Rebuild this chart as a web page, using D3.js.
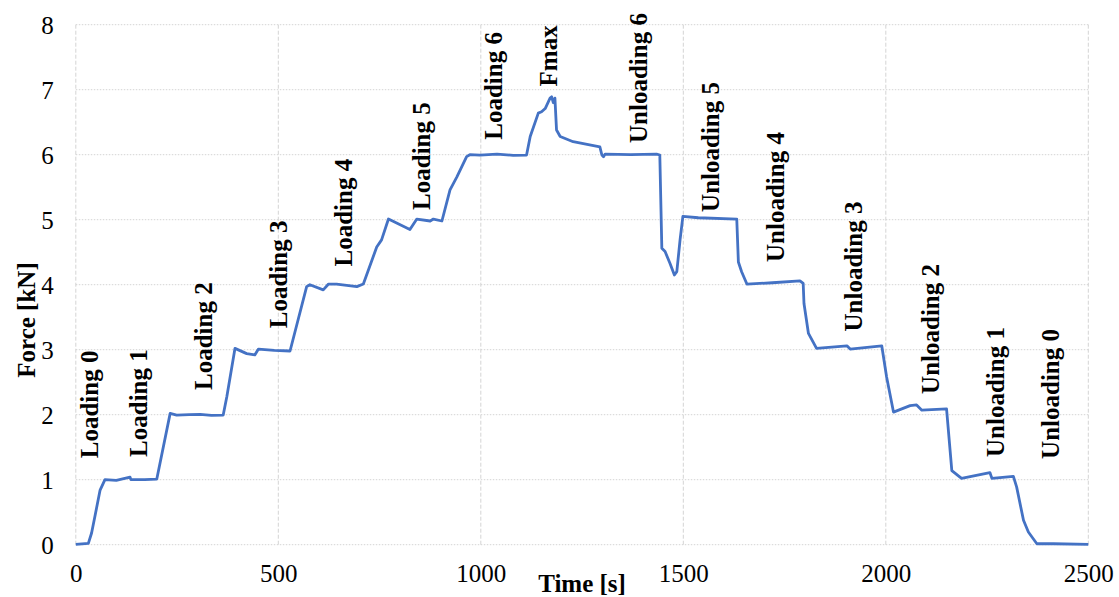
<!DOCTYPE html>
<html>
<head>
<meta charset="utf-8">
<script src="https://cdn.jsdelivr.net/npm/d3@7"></script>
<style>
  body { margin: 0; background: #fff; }
  svg text { font-family: "Liberation Serif", "Times New Roman", serif; fill: #000; }
</style>
</head>
<body>
<div id="chart"></div>
<script>
// time [s] and force [kN]
var times = [0, 31, 39, 47, 60, 72, 100, 134, 136, 170, 200, 233, 249, 280, 307, 335, 364,
  373, 393, 422, 442, 451, 490, 529, 570, 578, 611, 624, 644, 694, 710, 743, 755, 772,
  825, 842, 875, 883, 904, 924, 941, 965, 973, 998, 1040, 1080, 1113, 1122, 1142, 1150,
  1159, 1171, 1175, 1179, 1183, 1187, 1196, 1228, 1294, 1299, 1303, 1307, 1370, 1434,
  1442, 1447, 1455, 1467, 1478, 1484, 1492, 1499, 1537, 1632, 1636, 1644, 1657, 1720,
  1788, 1796, 1798, 1809, 1829, 1904, 1912, 1990, 2002, 2019, 2060, 2076, 2089, 2150,
  2163, 2187, 2257, 2262, 2315, 2323, 2340, 2352, 2373, 2414, 2500];
var forces = [0.005, 0.02, 0.18, 0.43, 0.84, 1.0, 0.99, 1.04, 1.0, 1.0, 1.01, 2.02, 1.995,
  2.0, 2.006, 1.99, 1.995, 2.28, 3.02, 2.94, 2.92, 3.01, 2.99, 2.98, 3.97, 4.0, 3.92, 4.01,
  4.01, 3.97, 4.01, 4.58, 4.69, 5.01, 4.85, 5.01, 4.98, 5.01, 4.98, 5.46, 5.66, 5.97, 6.0,
  5.995, 6.01, 5.99, 5.995, 6.28, 6.64, 6.66, 6.71, 6.87, 6.89, 6.8, 6.87, 6.38, 6.28, 6.2,
  6.12, 5.995, 5.97, 6.01, 6.0, 6.01, 5.995, 4.56, 4.51, 4.33, 4.15, 4.2, 4.69, 5.05, 5.03,
  5.01, 4.35, 4.2, 4.01, 4.03, 4.06, 4.02, 3.71, 3.25, 3.02, 3.06, 3.01, 3.06, 2.58, 2.04,
  2.14, 2.15, 2.07, 2.09, 1.14, 1.02, 1.11, 1.02, 1.05, 0.89, 0.375, 0.195, 0.015, 0.015,
  0.005];

var stageNames = ["Loading 0", "Loading 1", "Loading 2", "Loading 3", "Loading 4", "Loading 5",
  "Loading 6", "Fmax", "Unloading 6", "Unloading 5", "Unloading 4", "Unloading 3",
  "Unloading 2", "Unloading 1", "Unloading 0"];
var stageTimes = [56, 176, 337, 521, 682, 875, 1052, 1188, 1410, 1588, 1749, 1941, 2131, 2292, 2428];
var stageForces = [1.33, 1.35, 2.38, 3.33, 4.28, 5.15, 6.23, 7.05, 6.18, 5.12, 4.35, 3.28, 2.32, 1.35, 1.32];

var xTicks = [0, 500, 1000, 1500, 2000, 2500];
var yTicks = [0, 1, 2, 3, 4, 5, 6, 7, 8];

var w = 1119, h = 597;
var margin = {left: 75.8, right: 30.7, top: 24.7, bottom: 52.3};
var serif = '"Liberation Serif", "Times New Roman", serif';

var x = d3.scaleLinear().domain([0, 2500]).range([margin.left, w - margin.right]);
var y = d3.scaleLinear().domain([0, 8]).range([h - margin.bottom, margin.top]);

var svg = d3.select("#chart").append("svg")
  .attr("width", w)
  .attr("height", h);

// grid
svg.append("g").selectAll("line")
  .data(yTicks).enter().append("line")
  .attr("x1", x(0)).attr("x2", x(2500))
  .attr("y1", function(d) { return y(d); })
  .attr("y2", function(d) { return y(d); })
  .attr("stroke", "#d4d4d4")
  .attr("stroke-width", 1)
  .attr("stroke-dasharray", "1.5,1.5");

svg.append("g").selectAll("line")
  .data(xTicks).enter().append("line")
  .attr("y1", y(0)).attr("y2", y(8))
  .attr("x1", function(d) { return x(d); })
  .attr("x2", function(d) { return x(d); })
  .attr("stroke", "#d4d4d4")
  .attr("stroke-width", 1)
  .attr("stroke-dasharray", "4,2");

// axes (labels only, no domain lines)
var xAxis = svg.append("g")
  .attr("transform", "translate(0," + y(0) + ")")
  .call(d3.axisBottom(x).tickValues(xTicks).tickSize(0).tickPadding(0).tickFormat(d3.format("d")));
xAxis.attr("font-family", serif);
xAxis.select(".domain").remove();
xAxis.selectAll("text")
  .attr("y", 37).attr("dy", 0)
  .style("font-family", serif)
  .style("font-size", "25px");

var yAxis = svg.append("g")
  .attr("transform", "translate(" + x(0) + ",0)")
  .call(d3.axisLeft(y).tickValues(yTicks).tickSize(0).tickPadding(0).tickFormat(d3.format("d")));
yAxis.attr("font-family", serif);
yAxis.select(".domain").remove();
yAxis.selectAll("text")
  .attr("x", -22).attr("dy", "0.34em")
  .style("font-family", serif)
  .style("font-size", "25px");

// curve
var line = d3.line()
  .x(function(d) { return x(d[0]); })
  .y(function(d) { return y(d[1]); });

svg.append("path")
  .datum(d3.zip(times, forces))
  .attr("d", line)
  .attr("fill", "none")
  .attr("stroke", "#4472C4")
  .attr("stroke-width", 2.8)
  .attr("stroke-linejoin", "round");

// stage labels
svg.append("g").selectAll("text")
  .data(stageNames).enter().append("text")
  .attr("transform", function(d, i) {
    return "translate(" + x(stageTimes[i]) + "," + y(stageForces[i]) + ") rotate(-90)";
  })
  .attr("text-anchor", "start")
  .style("font-size", "25px")
  .style("font-weight", "bold")
  .text(function(d) { return d; });

// titles
svg.append("text")
  .attr("x", (x(0) + x(2500)) / 2)
  .attr("y", 592)
  .attr("text-anchor", "middle")
  .style("font-size", "25px")
  .style("font-weight", "bold")
  .text("Time [s]");

svg.append("text")
  .attr("transform", "translate(35,320) rotate(-90)")
  .attr("text-anchor", "middle")
  .style("font-size", "25px")
  .style("font-weight", "bold")
  .text("Force [kN]");
</script>
</body>
</html>
